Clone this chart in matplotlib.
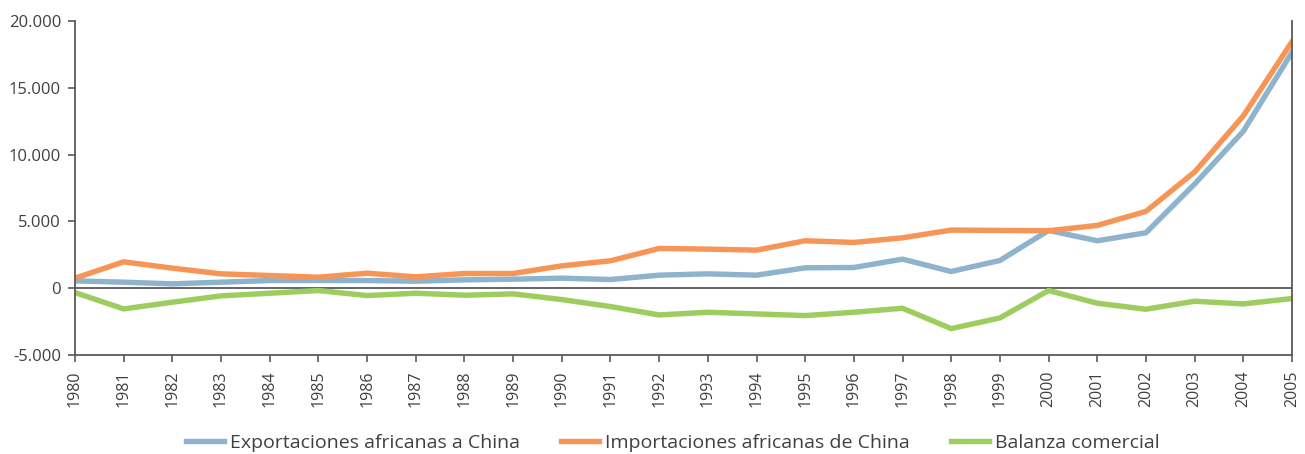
import matplotlib
matplotlib.use("Agg")
import matplotlib.pyplot as plt
from matplotlib.ticker import FuncFormatter

years = list(range(1980, 2006))
exportaciones = [550, 450, 325, 450, 575, 575, 575, 525, 625, 675, 750, 650,
                 975, 1075, 975, 1525, 1550, 2175, 1250, 2075, 4325, 3550, 4150,
                 7800, 11750, 17650]
importaciones = [750, 1975, 1500, 1075, 950, 825, 1125, 850, 1100, 1100, 1675, 2050,
                 2975, 2925, 2850, 3550, 3425, 3775, 4350, 4325, 4300, 4700, 5750,
                 8700, 12900, 18450]
balanza = [-325, -1550, -1050, -575, -375, -175, -550, -375, -525, -425, -850, -1375,
           -2000, -1800, -1925, -2050, -1800, -1500, -3025, -2225, -175, -1125, -1575,
           -975, -1175, -775]

plt.rcParams['font.family'] = ['Open Sans', 'DejaVu Sans']
txt = "#404040"

fig = plt.figure(figsize=(13.05, 4.54), dpi=100)
ax = fig.add_axes([75 / 1305, 1 - 355 / 454, (1292 - 75) / 1305, (355 - 21) / 454])

ax.plot(years, exportaciones, color="#8EB3CD", lw=3.9, label="Exportaciones africanas a China")
ax.plot(years, importaciones, color="#F79556", lw=3.9, label="Importaciones africanas de China")
ax.plot(years, balanza, color="#9CCD5E", lw=3.9, label="Balanza comercial")
ax.axhline(0, color="#595959", lw=1.3, zorder=1)

ax.set_xlim(1980, 2005)
ax.set_ylim(-5000, 20000)
ax.set_yticks(range(-5000, 20001, 5000))
ax.yaxis.set_major_formatter(FuncFormatter(lambda v, p: f"{int(v):,}".replace(",", ".")))
ax.set_xticks(years)
ax.set_xticklabels([str(y) for y in years], rotation=90)

for s in ["left", "bottom", "right"]:
    ax.spines[s].set_color("#595959")
    ax.spines[s].set_linewidth(1.3)
ax.spines["top"].set_visible(False)
ax.tick_params(axis="both", colors="#595959", labelcolor=txt, length=5, width=1.2)
ax.tick_params(axis="y", labelsize=12, pad=5)
ax.tick_params(axis="x", labelsize=11.5, pad=6)

fig.legend(*ax.get_legend_handles_labels(), loc="center",
           bbox_to_anchor=(673 / 1305, 1 - 443 / 454), ncol=3, frameon=False,
           fontsize=14, labelcolor=txt, handlelength=1.95, columnspacing=2.1,
           handletextpad=0.33, borderpad=0, borderaxespad=0)

fig.savefig("out.png", dpi=100)
